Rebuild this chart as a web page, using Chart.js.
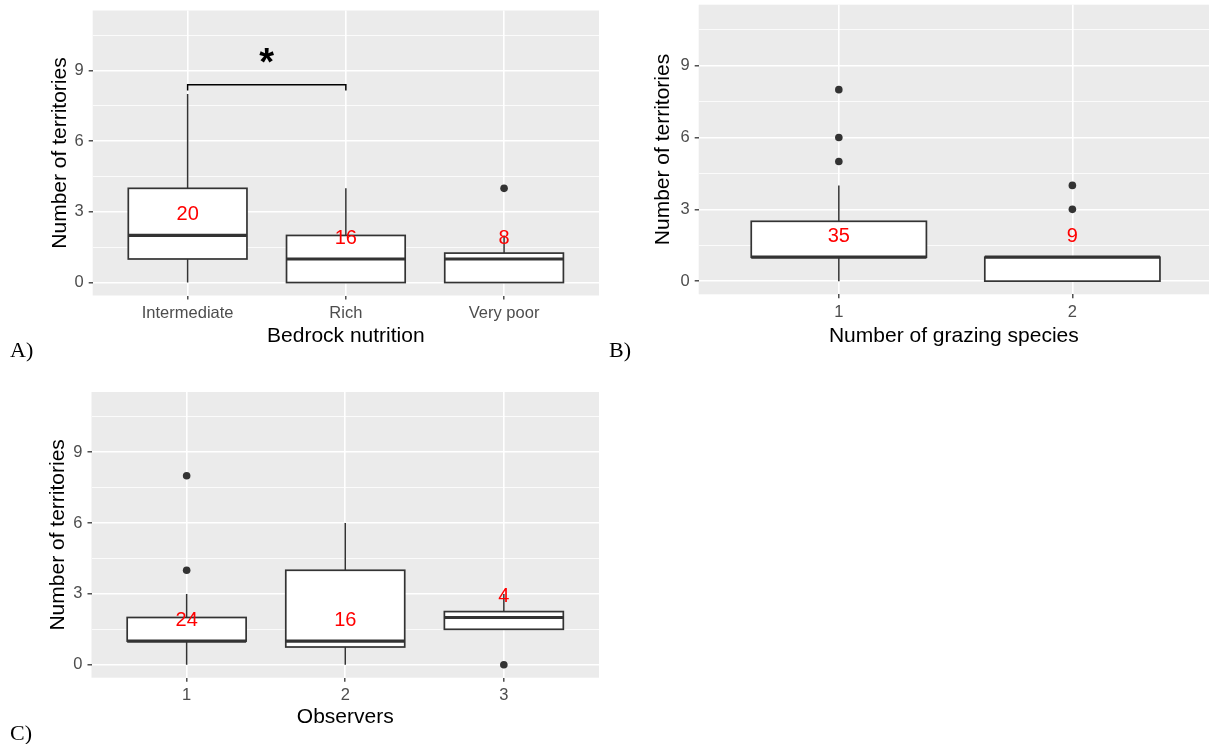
<!DOCTYPE html>
<html>
<head>
<meta charset="utf-8">
<script src="https://cdn.jsdelivr.net/npm/chart.js@4.4.1/dist/chart.umd.min.js"></script>
<style>
  body { margin: 0; background: #fff; width: 1209px; height: 744px; overflow: hidden; position: relative; }
  canvas { position: absolute; }
  .tag { position: absolute; font-family: "Liberation Serif", "Times New Roman", serif; font-size: 22px; line-height: 22px; color: #000; }
</style>
</head>
<body>
<canvas id="chartA" width="600" height="350" style="left:0;top:0"></canvas>
<canvas id="chartB" width="604" height="350" style="left:605px;top:0"></canvas>
<canvas id="chartC" width="600" height="350" style="left:0;top:380px"></canvas>
<div class="tag" style="left:10px;top:339px">A)</div>
<div class="tag" style="left:609px;top:339px">B)</div>
<div class="tag" style="left:10px;top:722px">C)</div>
<script>
// A) bedrock nutrition
var catsA = ['Intermediate', 'Rich', 'Very poor'];
var lowA = [0, 0, 0];
var q1A = [1, 0, 0];
var medA = [2, 1, 1];
var q3A = [4, 2, 1.25];
var highA = [8, 4, 2];
var outA = [[], [], [4]];
var countA = [20, 16, 8];
var countYA = [3, 2, 2];
// significance bracket Intermediate vs Rich
var sigPair = [0, 1];
var sigY = 8.4;
var sigTipY = 8.15;
var sigStarY = 9.25;
var sigLabel = '*';

// B) number of grazing species
var catsB = ['1', '2'];
var lowB = [0, 0];
var q1B = [1, 0];
var medB = [1, 1];
var q3B = [2.5, 1];
var highB = [4, 1];
var outB = [[5, 6, 8], [3, 4]];
var countB = [35, 9];
var countYB = [2, 2];

// C) observers
var catsC = ['1', '2', '3'];
var lowC = [0, 0, 1.5];
var q1C = [1, 0.75, 1.5];
var medC = [1, 1, 2];
var q3C = [2, 4, 2.25];
var highC = [3, 6, 3];
var outC = [[4, 8], [], [0]];
var countC = [24, 16, 4];
var countYC = [2, 2, 3];

var yTicks = [0, 1.5, 3, 4.5, 6, 7.5, 9, 10.5];
var yMin = -0.55, yMax = 11.55;

var FONT = '"Liberation Sans", Arial, sans-serif';
Chart.defaults.font.family = FONT;

function boxPlugin(s) {
  return {
    id: 'boxes',
    beforeDraw: function (chart) {
      var a = chart.chartArea, c = chart.ctx;
      c.save();
      c.fillStyle = '#ebebeb';
      c.fillRect(a.left, a.top, a.right - a.left, a.bottom - a.top);
      c.restore();
    },
    beforeDatasetsDraw: function (chart) {
      var x = chart.scales.x, y = chart.scales.y, c = chart.ctx;
      c.save();
      c.strokeStyle = '#333333';
      for (var i = 0; i < s.cats.length; i++) {
        var cx = x.getPixelForValue(i);
        var x0 = x.getPixelForValue(i - 0.375), x1 = x.getPixelForValue(i + 0.375);
        var top = y.getPixelForValue(s.q3[i]), bot = y.getPixelForValue(s.q1[i]);
        c.lineWidth = 1.5;
        c.beginPath();
        c.moveTo(cx, top); c.lineTo(cx, y.getPixelForValue(s.high[i]));
        c.moveTo(cx, bot); c.lineTo(cx, y.getPixelForValue(s.low[i]));
        c.stroke();
        c.fillStyle = '#ffffff';
        c.fillRect(x0, top, x1 - x0, bot - top);
        c.lineWidth = 1.7;
        c.strokeRect(x0, top, x1 - x0, bot - top);
        var m = y.getPixelForValue(s.med[i]);
        c.lineWidth = 3.2;
        c.beginPath(); c.moveTo(x0, m); c.lineTo(x1, m); c.stroke();
      }
      c.restore();
    },
    afterDatasetsDraw: function (chart) {
      var x = chart.scales.x, y = chart.scales.y, c = chart.ctx;
      c.save();
      c.font = '20px ' + FONT;
      c.fillStyle = '#ff0000';
      c.textAlign = 'center';
      c.textBaseline = 'middle';
      for (var i = 0; i < s.cats.length; i++) {
        // digits sit a little high on the em middle, nudge down
        c.fillText(String(s.count[i]), x.getPixelForValue(i), y.getPixelForValue(s.countY[i]) + 3);
      }
      c.restore();
    }
  };
}

var sigPlugin = {
  id: 'sig',
  afterDatasetsDraw: function (chart) {
    var x = chart.scales.x, y = chart.scales.y, c = chart.ctx;
    var xa = x.getPixelForValue(sigPair[0]), xb = x.getPixelForValue(sigPair[1]);
    var yl = y.getPixelForValue(sigY), yt = y.getPixelForValue(sigTipY);
    c.save();
    c.strokeStyle = '#000';
    c.lineWidth = 1.5;
    c.beginPath();
    c.moveTo(xa, yt); c.lineTo(xa, yl); c.lineTo(xb, yl); c.lineTo(xb, yt);
    c.stroke();
    c.font = 'bold 38px ' + FONT;
    c.fillStyle = '#000';
    c.textAlign = 'center';
    c.textBaseline = 'middle';
    c.fillText(sigLabel, (xa + xb) / 2, y.getPixelForValue(sigStarY));
    c.restore();
  }
};

function isMajor(c) { return c.tick && c.tick.value % 3 === 0; }

function makeChart(id, s) {
  var pts = [];
  s.out.forEach(function (vals, i) {
    vals.forEach(function (v) { pts.push({ x: i, y: v }); });
  });
  return new Chart(document.getElementById(id), {
    type: 'scatter',
    data: {
      datasets: [{
        data: pts,
        pointRadius: 3.8,
        pointHoverRadius: 3.8,
        backgroundColor: '#333333',
        borderWidth: 0
      }]
    },
    options: {
      responsive: false,
      animation: false,
      devicePixelRatio: 1,
      layout: { autoPadding: false, padding: s.pad },
      plugins: { legend: { display: false }, tooltip: { enabled: false } },
      scales: {
        x: {
          type: 'linear',
          min: -0.6,
          max: s.xMax,
          afterBuildTicks: function (sc) {
            sc.ticks = s.cats.map(function (c, i) { return { value: i }; });
          },
          afterFit: function (sc) {
            sc.height = s.xHeight;
            sc.paddingLeft = 0;
            sc.paddingRight = 0;
          },
          ticks: {
            autoSkip: false, maxRotation: 0, padding: 4, color: '#4d4d4d',
            font: { size: 16.5 },
            callback: function (v) { return s.cats[v]; }
          },
          grid: { color: '#ffffff', lineWidth: 1.6, tickColor: '#333333', tickLength: 4, tickWidth: 1.3 },
          border: { display: false },
          title: { display: true, text: s.xTitle, color: '#000', font: { size: 21 }, padding: { top: 0, bottom: s.xTitlePad } }
        },
        y: {
          min: yMin,
          max: yMax,
          afterBuildTicks: function (sc) {
            sc.ticks = yTicks.map(function (v) { return { value: v }; });
          },
          afterFit: function (sc) {
            sc.width = s.yWidth;
            sc.paddingTop = 0;
            sc.paddingBottom = 0;
          },
          ticks: {
            autoSkip: false, padding: 5, color: '#4d4d4d',
            font: { size: 16.5 },
            callback: function (v) { return v % 3 === 0 ? String(v) : ''; }
          },
          grid: {
            color: '#ffffff',
            lineWidth: function (c) { return isMajor(c) ? 1.6 : 0.8; },
            tickColor: function (c) { return isMajor(c) ? '#333333' : 'rgba(0,0,0,0)'; },
            tickLength: 4,
            tickWidth: 1.3
          },
          border: { display: false },
          title: { display: true, text: 'Number of territories', color: '#000', font: { size: 21 }, padding: { top: s.yTitlePad, bottom: 0 } }
        }
      }
    },
    plugins: [boxPlugin(s)].concat(s.extra || [])
  });
}

makeChart('chartA', {
  cats: catsA, low: lowA, q1: q1A, med: medA, q3: q3A, high: highA, out: outA,
  count: countA, countY: countYA, xTitle: 'Bedrock nutrition',
  xMax: 2.6, pad: { top: 10.5, right: 1, left: 0, bottom: 0 },
  yWidth: 92.7, xHeight: 54.5, xTitlePad: 1, yTitlePad: 48, extra: [sigPlugin]
});

makeChart('chartB', {
  cats: catsB, low: lowB, q1: q1B, med: medB, q3: q3B, high: highB, out: outB,
  count: countB, countY: countYB, xTitle: 'Number of grazing species',
  xMax: 1.585, pad: { top: 4.7, right: 0, left: 0, bottom: 0 },
  yWidth: 93.7, xHeight: 55.7, xTitlePad: 1, yTitlePad: 46
});

makeChart('chartC', {
  cats: catsC, low: lowC, q1: q1C, med: medC, q3: q3C, high: highC, out: outC,
  count: countC, countY: countYC, xTitle: 'Observers',
  xMax: 2.6, pad: { top: 12, right: 1, left: 0, bottom: 0 },
  yWidth: 91.5, xHeight: 52.3, xTitlePad: 0, yTitlePad: 46
});
</script>
</body>
</html>
